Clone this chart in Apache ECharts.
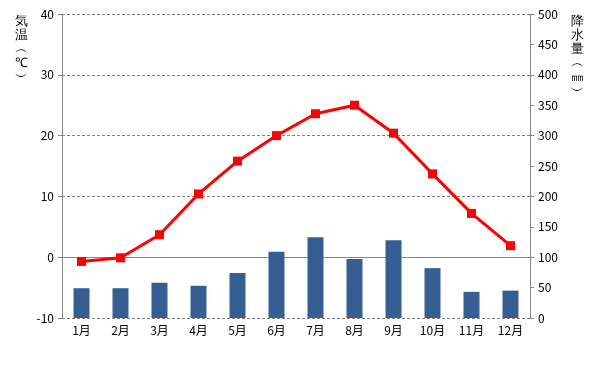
<!DOCTYPE html>
<html>
<head>
<meta charset="utf-8">
<script src="https://cdn.jsdelivr.net/npm/echarts@6/dist/echarts.min.js"></script>
<style>html,body{margin:0;padding:0;background:#fff;}#c{width:598px;height:368px;}</style>
</head>
<body>
<div id="c"></div>
<script>
var months = ['1月','2月','3月','4月','5月','6月','7月','8月','9月','10月','11月','12月'];
var temperature = [-0.7, -0.1, 3.7, 10.4, 15.8, 20.0, 23.6, 25.0, 20.4, 13.7, 7.2, 1.9];
var precipitation = [49, 49, 58, 53, 74, 109, 133, 97, 128, 82, 43, 45];
var leftName = ['気','温','︵','℃','︶'];
var rightName = ['降','水','量','︵','㎜','︶'];

var font = '"Noto Sans CJK JP", sans-serif';
var chart = echarts.init(document.getElementById('c'));
chart.setOption({
  animation: false,
  backgroundColor: '#fff',
  grid: { left: 62, right: 68, top: 14, bottom: 50 },
  xAxis: {
    type: 'category',
    data: months,
    axisLine: { show: false },
    axisTick: { show: false },
    axisLabel: { color: '#000', fontSize: 12, fontFamily: font, margin: 6 }
  },
  yAxis: [{
    type: 'value', min: -10, max: 40, interval: 10,
    axisLine: { show: true, lineStyle: { color: '#868686' } },
    axisTick: { show: true, length: 4, lineStyle: { color: '#868686' } },
    axisLabel: { color: '#000', fontSize: 12, fontFamily: font, margin: 8 },
    splitLine: { show: true, lineStyle: { color: '#808080', type: [3, 2], width: 1 } }
  }, {
    type: 'value', min: 0, max: 500, interval: 50,
    axisLine: { show: true, lineStyle: { color: '#868686' } },
    axisTick: { show: true, length: 4, lineStyle: { color: '#868686' } },
    axisLabel: { color: '#000', fontSize: 12, fontFamily: font, margin: 8 },
    splitLine: { show: false }
  }],
  graphic: [{
    type: 'text', left: 15, top: 14,
    style: { text: leftName.join('\n'), fontSize: 13, lineHeight: 14, fill: '#000', font: '13px ' + font, align: 'center' }
  }, {
    type: 'text', left: 571, top: 14,
    style: { text: rightName.join('\n'), fontSize: 13, lineHeight: 14, fill: '#000', font: '13px ' + font, align: 'center' }
  }],
  series: [{
    type: 'bar', yAxisIndex: 1, data: precipitation,
    barWidth: 16, itemStyle: { color: '#375E92' }, z: 2
  }, {
    type: 'line', yAxisIndex: 0, data: temperature,
    symbol: 'rect', symbolSize: 9,
    lineStyle: { color: '#FF0000', width: 3 },
    itemStyle: { color: '#FF0000' }, z: 5,
    markLine: {
      silent: true, symbol: 'none', label: { show: false },
      lineStyle: { color: '#868686', type: 'solid', width: 1 },
      data: [{ yAxis: 0 }], z: 1
    }
  }]
});
</script>
</body>
</html>
